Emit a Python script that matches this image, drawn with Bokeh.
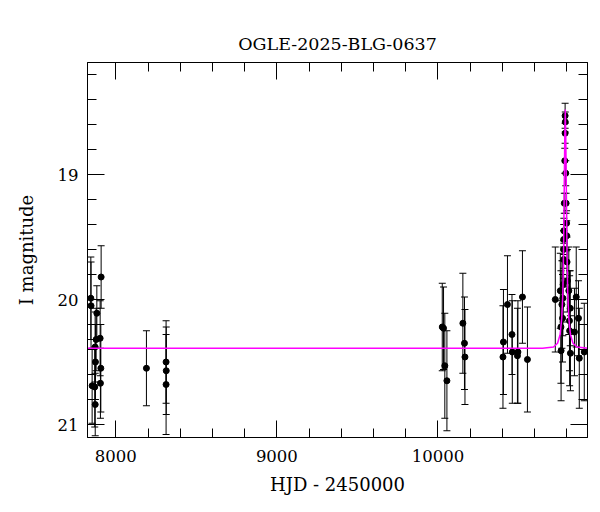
from bokeh.plotting import figure
from bokeh.models import Range1d, LinearAxis, FixedTicker, CustomJSTickFormatter
from bokeh.embed import file_html
from bokeh.resources import INLINE

# ---- data (HJD - 2450000, I magnitude, error) ----
hjd = [7844.7, 7846.0, 7852.8, 7871.4, 7873.3, 7869.0, 7872.0, 7877.6, 7882.0,
       7902.5, 7904.3, 7906.8, 7908.7,
       8190.0, 8312.0, 8313.0, 8312.0,
       10027.0, 10035.0, 10043.0, 10056.0, 10155.0, 10165.0, 10168.0,
       10404.0, 10407.0, 10432.0, 10460.0, 10462.0, 10494.0, 10497.0, 10525.0, 10556.0,
       10729.0, 10760.0, 10770.0, 10774.0, 10764.0, 10765.0, 10776.0, 10813.0, 10822.0,
       10817.0, 10818.0, 10823.0, 10848.0, 10859.0, 10873.0, 10878.0, 10909.0,
       10790.0, 10791.0, 10790.0, 10788.0, 10794.0, 10785.0, 10796.0, 10799.0, 10782.0,
       10800.0, 10781.0, 10780.0, 10781.0, 10802.0, 10804.0, 10778.0]
mag = [19.99, 20.05, 20.69, 20.38, 20.50, 20.70, 20.84, 20.32, 20.11,
       20.31, 20.67, 20.55, 19.82,
       20.55, 20.50, 20.57, 20.68,
       20.22, 20.23, 20.53, 20.65, 20.19, 20.35, 20.46,
       20.46, 20.34, 20.04, 20.28, 20.42, 20.45, 20.42, 19.98, 20.48,
       20.00, 19.93, 20.04, 20.15, 20.22, 20.41, 19.99, 19.93, 20.07,
       20.17, 20.25, 20.43, 20.26, 19.98, 20.15, 20.47, 20.42,
       18.53, 18.58, 18.67, 18.89, 18.99, 19.23, 19.23, 19.39, 19.45,
       19.49, 19.52, 19.60, 19.68, 19.70, 19.85, 19.88]
err = [0.33, 0.35, 0.30, 0.28, 0.30, 0.32, 0.25, 0.25, 0.22,
       0.30, 0.28, 0.35, 0.25,
       0.30, 0.33, 0.35, 0.40,
       0.35, 0.33, 0.42, 0.40, 0.40, 0.37, 0.38,
       0.41, 0.42, 0.39, 0.32, 0.41, 0.38, 0.41, 0.37, 0.42,
       0.42, 0.30, 0.35, 0.35, 0.45, 0.40, 0.30, 0.35, 0.30,
       0.40, 0.44, 0.30, 0.35, 0.40, 0.30, 0.40, 0.39,
       0.10, 0.08, 0.08, 0.10, 0.10, 0.08, 0.08, 0.10, 0.10,
       0.12, 0.12, 0.15, 0.15, 0.20, 0.25, 0.30]

# model light curve
model_hjd = [7824, 10650, 10718, 10743, 10759, 10769, 10776, 10781, 10785, 10788, 10791,
             10794, 10797, 10801, 10806, 10813, 10823, 10839, 10864, 10929]
model_mag = [20.39, 20.39, 20.38, 20.35, 20.28, 20.15, 19.95, 19.55, 19.05, 18.70, 18.48,
             18.70, 19.05, 19.55, 19.95, 20.15, 20.28, 20.35, 20.38, 20.39]

x_major = [8000, 9000, 10000]
x_minor = [7800 + 200 * i for i in range(17)]
y_major = [19, 20, 21]
y_minor = [round(18.0 + 0.2 * i, 1) for i in range(17)]

title = "OGLE-2025-BLG-0637"
xlabel = "HJD - 2450000"
ylabel = "I magnitude"

FONT = "DejaVu Serif"

p = figure(width=600, height=504, output_backend="svg", toolbar_location=None,
           x_range=Range1d(7824, 10929), y_range=Range1d(21.104, 18.104),
           min_border_left=87, min_border_right=13, min_border_top=62,
           min_border_bottom=67)

p.title.text = title
p.title.align = "center"
p.title.text_font = FONT
p.title.text_font_size = "17.5px"
p.title.text_font_style = "normal"
p.title.text_color = "black"
p.title.standoff = 18

p.grid.visible = False
p.outline_line_color = "black"
p.outline_line_width = 1


def style_axis(ax, ticks, minors, show_labels):
    ax.ticker = FixedTicker(ticks=ticks, minor_ticks=minors)
    ax.major_tick_in = 17
    ax.major_tick_out = 0
    ax.minor_tick_in = 9
    ax.minor_tick_out = 0
    ax.major_tick_line_color = "black"
    ax.minor_tick_line_color = "black"
    ax.axis_line_color = "black"
    ax.major_label_text_font = FONT
    ax.major_label_text_font_size = "16.5px"
    ax.major_label_text_color = "black"
    ax.axis_label_text_font = FONT
    ax.axis_label_text_font_size = "18px"
    ax.axis_label_text_font_style = "normal"
    ax.axis_label_text_color = "black"
    if not show_labels:
        ax.formatter = CustomJSTickFormatter(code="return ''")
        ax.major_label_text_font_size = "1px"
        ax.major_label_standoff = 0


style_axis(p.xaxis[0], x_major, x_minor, True)
style_axis(p.yaxis[0], y_major, y_minor, True)
p.xaxis[0].axis_label = xlabel
p.yaxis[0].axis_label = ylabel
p.xaxis[0].major_label_standoff = 12
p.yaxis[0].major_label_standoff = 9
p.xaxis[0].axis_label_standoff = 9
p.yaxis[0].axis_label_standoff = 18

top = LinearAxis()
style_axis(top, x_major, x_minor, False)
p.add_layout(top, "above")
right = LinearAxis()
style_axis(right, y_major, y_minor, False)
p.add_layout(right, "right")

lo = [m - e for m, e in zip(mag, err)]
hi = [m + e for m, e in zip(mag, err)]

p.segment(x0=hjd, y0=lo, x1=hjd, y1=hi, line_color="black", line_width=1)
p.scatter(hjd, lo, marker="dash", size=7, line_color="black", line_width=1)
p.scatter(hjd, hi, marker="dash", size=7, line_color="black", line_width=1)
p.scatter(hjd, mag, size=6, fill_color="black", line_color="black")
p.line(model_hjd, model_mag, line_color="#ff00ff", line_width=1.5)

open("out.html", "w").write(file_html(p, INLINE))
